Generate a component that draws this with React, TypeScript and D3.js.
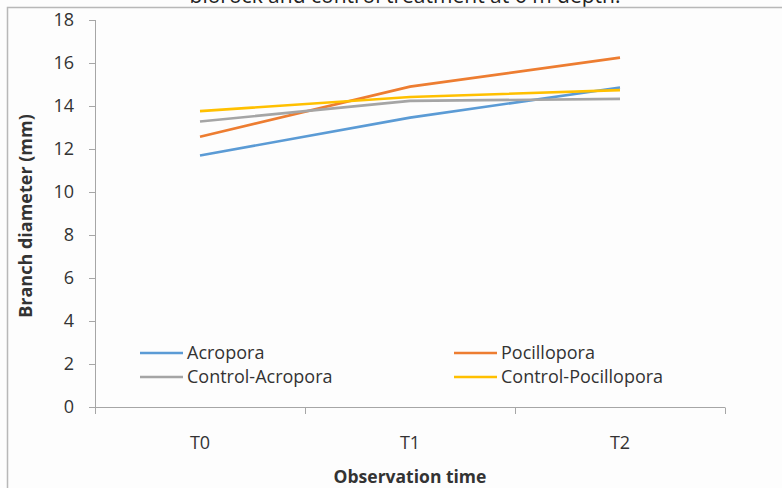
import React from "react";
import * as d3 from "d3";

const categories = ["T0", "T1", "T2"];
const seriesNames = ["Acropora", "Pocillopora", "Control-Acropora", "Control-Pocillopora"];
const acropora = [11.7, 13.46, 14.86];
const pocillopora = [12.57, 14.9, 16.25];
const controlAcropora = [13.28, 14.24, 14.33];
const controlPocillopora = [13.76, 14.42, 14.74];
const yTicks = [0, 2, 4, 6, 8, 10, 12, 14, 16, 18];
const colors = ["#5B9BD5", "#ED7D31", "#A5A5A5", "#FFC000"];

const W = 782;
const H = 488;
const FONT = "'Open Sans', Lato, sans-serif";

export default function App() {
  const values = [acropora, pocillopora, controlAcropora, controlPocillopora];
  const x = d3.scaleBand<string>().domain(categories).range([95, 725]);
  const y = d3.scaleLinear().domain([0, 18]).range([407, 20]);
  const line = d3
    .line<number>()
    .x((_, i) => (x(categories[i]) as number) + x.bandwidth() / 2)
    .y((d) => y(d));

  const legendPos = [
    { lx: 140, ly: 353 },
    { lx: 454, ly: 353 },
    { lx: 140, ly: 377 },
    { lx: 454, ly: 377 },
  ];

  return (
    <svg
      width={W}
      height={H}
      style={{ position: "absolute", left: 0, top: 0 }}
      fontFamily={FONT}
    >
      <rect x={0} y={0} width={W} height={H} fill="#fdfdfd" />
      <text x={405} y={3} textAnchor="middle" fontSize={21} fill="#222">
        biorock and control treatment at 6 m depth.
      </text>
      {/* frame */}
      <path d={`M7.5,${H} V7.5 H${W}`} fill="none" stroke="#b8b8b8" strokeWidth={1.5} />

      {/* y axis */}
      <line x1={95.5} x2={95.5} y1={y(18)} y2={y(0)} stroke="#a6a6a6" />
      {yTicks.map((t) => (
        <g key={t}>
          <line x1={89} x2={95.5} y1={Math.round(y(t)) + 0.5} y2={Math.round(y(t)) + 0.5} stroke="#a6a6a6" />
          <text x={74} y={y(t)} dy="0.36em" textAnchor="end" fontSize={18} fill="#333">
            {t}
          </text>
        </g>
      ))}
      {/* x axis */}
      <line x1={89} x2={725} y1={407.5} y2={407.5} stroke="#a6a6a6" />
      {categories.map((c) => (
        <g key={c}>
          <line
            x1={(x(c) as number) + x.bandwidth() + 0.5}
            x2={(x(c) as number) + x.bandwidth() + 0.5}
            y1={407.5}
            y2={414}
            stroke="#a6a6a6"
          />
          <text
            x={(x(c) as number) + x.bandwidth() / 2}
            y={443}
            dy="0.36em"
            textAnchor="middle"
            fontSize={18}
            fill="#333"
          >
            {c}
          </text>
        </g>
      ))}
      <line x1={95.5} x2={95.5} y1={407.5} y2={414} stroke="#a6a6a6" />

      {values.map((v, k) => (
        <path key={k} d={line(v) as string} fill="none" stroke={colors[k]} strokeWidth={2.6} />
      ))}

      {seriesNames.map((n, k) => (
        <g key={n}>
          <line
            x1={legendPos[k].lx}
            x2={legendPos[k].lx + 43}
            y1={legendPos[k].ly}
            y2={legendPos[k].ly}
            stroke={colors[k]}
            strokeWidth={2.6}
          />
          <text x={legendPos[k].lx + 47} y={legendPos[k].ly} dy="0.36em" fontSize={18} fill="#333">
            {n}
          </text>
        </g>
      ))}

      <text
        transform={`translate(26,216) rotate(-90)`}
        textAnchor="middle"
        dy="0.36em"
        fontSize={18}
        fontWeight="bold"
        fill="#333"
      >
        Branch diameter (mm)
      </text>
      <text x={410} y={477} textAnchor="middle" dy="0.36em" fontSize={17.5} fontWeight="bold" fill="#333">
        Observation time
      </text>
    </svg>
  );
}
